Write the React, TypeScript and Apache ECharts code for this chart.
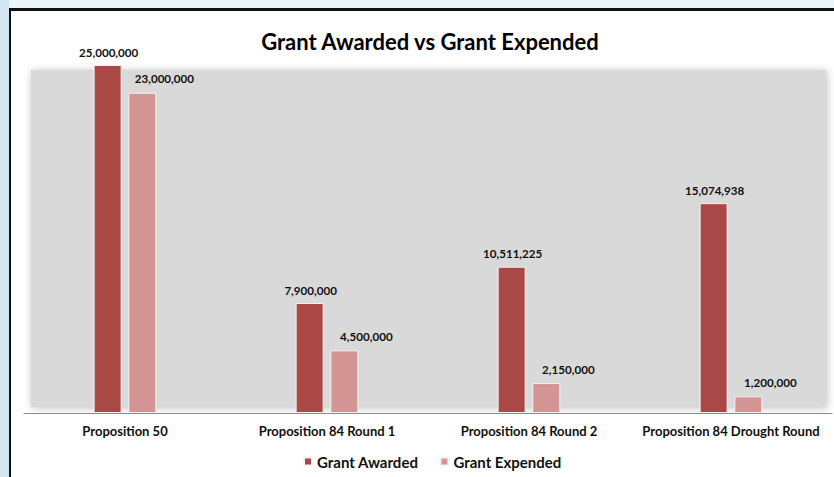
import React, { useEffect, useRef } from "react";
import * as echarts from "echarts";

const categories = [
  "Proposition 50",
  "Proposition 84 Round 1",
  "Proposition 84 Round 2",
  "Proposition 84 Drought Round",
];
const grantAwarded = [25000000, 7900000, 10511225, 15074938];
const grantExpended = [23000000, 4500000, 2150000, 1200000];
const seriesNames = ["Grant Awarded", "Grant Expended"];
const titleText = "Grant Awarded vs Grant Expended";

const FONT = "Lato";
const fmt = (v: number) => v.toLocaleString("en-US");

export default function App() {
  const ref = useRef<HTMLDivElement>(null);
  useEffect(() => {
    const chart = echarts.init(ref.current!, null, { renderer: "svg" });
    chart.setOption({
      animation: false,
      backgroundColor: "#EAF6FB",
      textStyle: { fontFamily: FONT },
      title: {
        text: titleText,
        left: 430,
        top: 30,
        textAlign: "center",
        padding: 0,
        textStyle: { fontFamily: FONT, fontWeight: "bold", fontSize: 22, color: "#000" },
      },
      legend: {
        data: seriesNames,
        left: 298,
        top: 449,
        icon: "rect",
        itemWidth: 8,
        itemHeight: 8,
        itemGap: 21,
        textStyle: { fontFamily: FONT, fontWeight: "bold", fontSize: 15, color: "#111" },
      },
      graphic: [
        { type: "rect", z: -10, shape: { x: 0, y: 0, width: 9, height: 477 }, style: { fill: "#D3E5F0" } },
        { type: "rect", z: -9, shape: { x: 9, y: 8, width: 825, height: 469 }, style: { fill: "#111" } },
        { type: "rect", z: -8, shape: { x: 11, y: 11, width: 823, height: 466 }, style: { fill: "#FFFFFF" } },
        {
          type: "rect",
          z: -7,
          shape: { x: 31, y: 70, width: 795, height: 337 },
          style: { fill: "#D9D9D9", shadowBlur: 8, shadowColor: "rgba(0,0,0,0.25)", shadowOffsetX: 1, shadowOffsetY: 1 },
        },
      ],
      grid: { left: 24, right: 2, top: 65, bottom: 64, containLabel: false, outerBoundsMode: "none" },
      xAxis: {
        type: "category",
        data: categories,
        axisLine: { show: true, lineStyle: { color: "#8C8C8C", width: 1 } },
        axisTick: { show: false },
        axisLabel: { margin: 11, fontFamily: FONT, fontWeight: "bold", fontSize: 13, color: "#111", interval: 0 },
      },
      yAxis: {
        type: "value",
        min: 0,
        max: 25000000,
        show: false,
        splitLine: { show: false },
      },
      series: [
        {
          name: seriesNames[0],
          type: "bar",
          data: grantAwarded,
          barWidth: 28,
          barGap: "24%",
          itemStyle: { color: "#AA4846", borderColor: "#F2F2F2", borderWidth: 1 },
          label: {
            show: true,
            position: "top",
            distance: 7,
            offset: [1, 0],
            formatter: (p: any) => fmt(p.value),
            fontFamily: FONT,
            fontWeight: "bold",
            fontSize: 11.6,
            color: "#111",
          },
        },
        {
          name: seriesNames[1],
          type: "bar",
          data: grantExpended,
          barWidth: 28,
          itemStyle: { color: "#D39493", borderColor: "#F2F2F2", borderWidth: 1 },
          label: {
            show: true,
            position: "top",
            distance: 8,
            offset: [22, 0],
            formatter: (p: any) => fmt(p.value),
            fontFamily: FONT,
            fontWeight: "bold",
            fontSize: 11.6,
            color: "#111",
          },
        },
      ],
    });
    return () => chart.dispose();
  }, []);
  return (
    <div
      ref={ref}
      style={{ position: "fixed", left: 0, top: 0, width: 834, height: 477 }}
    />
  );
}
